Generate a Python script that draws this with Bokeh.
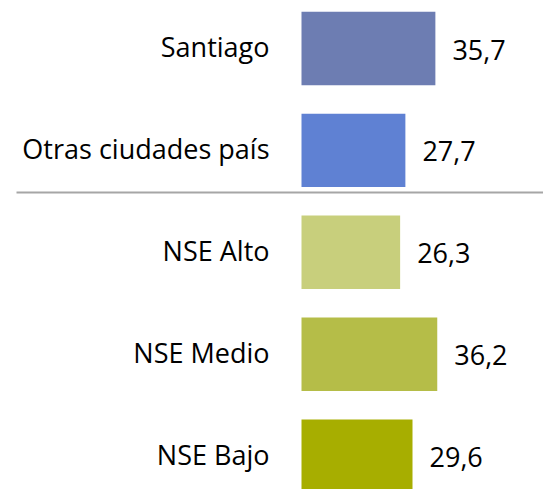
from bokeh.plotting import figure
from bokeh.models import ColumnDataSource, Range1d
from bokeh.core.properties import value
from bokeh.embed import file_html
from bokeh.resources import INLINE

categories = ["Santiago", "Otras ciudades país", "NSE Alto", "NSE Medio", "NSE Bajo"]
values = [35.7, 27.7, 26.3, 36.2, 29.6]
labels = ["35,7", "27,7", "26,3", "36,2", "29,6"]
colors = ["#6d7db2", "#5f81d3", "#c8cf7c", "#b5bd48", "#a7ae00"]

ypos = [5, 4, 3, 2, 1]

src = ColumnDataSource(dict(
    y=ypos, v=values, cat=categories, lab=labels, col=colors,
))

W, H = 543, 489
kx = 3.75
ky = 101.9
x0 = -301 / kx
y1 = 5 + 48 / ky
p = figure(width=W, height=H, output_backend="svg", toolbar_location=None,
           x_range=Range1d(x0, x0 + W / kx),
           y_range=Range1d(y1 - H / ky, y1),
           min_border=0, min_border_left=0, min_border_right=0,
           min_border_top=0, min_border_bottom=0)
p.axis.visible = False
p.grid.visible = False
p.outline_line_color = None
p.background_fill_color = "white"
p.border_fill_color = "white"

p.hbar(y="y", right="v", left=0, height=0.72, fill_color="col", line_color=None, source=src)

p.text(x=0, y="y", text="cat", source=src, x_offset=-32, y_offset=-2,
       text_font=value("Open Sans"), text_font_size="27px",
       text_align="right", text_baseline="middle", text_color="#000000")

p.text(x="v", y="y", text="lab", source=src, x_offset=17, y_offset=1,
       text_font=value("Open Sans"), text_font_size="27px",
       text_align="left", text_baseline="middle", text_color="#000000")

sep_y = y1 - 192 / ky
p.segment(x0=[x0 + 16 / kx], y0=[sep_y], x1=[x0 + W / kx], y1=[sep_y],
          line_color="#a6a6a6", line_width=2)

open("out.html", "w").write(file_html(p, INLINE))
